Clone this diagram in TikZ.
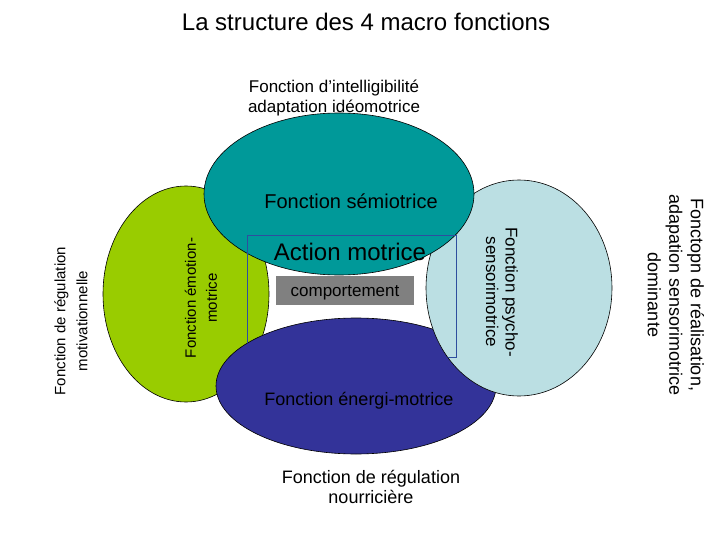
\documentclass[tikz,border=0pt]{standalone}
\usepackage{fontspec}
\setmainfont{Liberation Sans}
\usetikzlibrary{shapes.geometric}
\definecolor{cgreen}{HTML}{99CC00}
\definecolor{cteal}{HTML}{009999}
\definecolor{clight}{HTML}{BBDFE3}
\definecolor{cnavy}{HTML}{333399}
\definecolor{cgray}{HTML}{808080}
\definecolor{cframe}{HTML}{2E4E9E}
\newcommand{\fs}[2]{\fontsize{#1}{#2}\selectfont}
\begin{document}
\begin{tikzpicture}[x=1pt,y=-1pt,
  blob/.style={draw=black,line width=0.6pt,ellipse,inner sep=0pt},
  lbl/.style={inner sep=0pt,align=center,text=black},
  frameline/.style={draw=cframe,line width=0.7pt}]
\useasboundingbox (0,0) rectangle (720,540);
% title and outer labels
\node[lbl,anchor=base,font=\fs{24}{29}] (title) at (366,31) {La structure des 4 macro fonctions};
\node[lbl,anchor=base,font=\fs{17}{20}] (intel1) at (334,93) {Fonction d’intelligibilité};
\node[lbl,anchor=base,font=\fs{17}{20}] (intel2) at (334,113) {adaptation idéomotrice};
\node[lbl,anchor=base,font=\fs{18}{20}] (nour1) at (371,483) {Fonction de régulation};
\node[lbl,anchor=base,font=\fs{18}{20}] (nour2) at (371,503) {nourricière};
\node[lbl,rotate=90,font=\fs{15}{22}] (motiv) at (71,321) {Fonction de régulation\\motivationnelle};
\node[lbl,rotate=-90,font=\fs{18}{21.5}] (real) at (676,295) {Fonctopn de réalisation,\\adapation sensorimotrice\\dominante};
% ellipses
\node[blob,fill=cgreen,minimum width=166pt,minimum height=216pt] (green) at (186,294) {};
\node[blob,fill=cnavy,minimum width=280pt,minimum height=136pt] (navy) at (356,386) {};
\node[blob,fill=clight,minimum width=186pt,minimum height=216pt] (light) at (519,288) {};
\node[blob,fill=cteal,minimum width=270pt,minimum height=162pt] (teal) at (339,194) {};
% frame rectangle
\begin{scope}[even odd rule]
\clip (0,0) rectangle (720,540) (356,386) ellipse [x radius=140, y radius=68];
\draw[frameline] (247,235) rectangle (456,357);
\end{scope}
\begin{scope}
\clip (519,288) ellipse [x radius=93, y radius=108];
\draw[frameline] (247,235) rectangle (456,357);
\end{scope}
% inner labels
\node[lbl,anchor=base,font=\fs{20}{24}] (semio) at (351,208) {Fonction sémiotrice};
\node[lbl,anchor=base,font=\fs{24}{29}] (action) at (350,260) {Action motrice};
\node[fill=cgray,minimum width=138pt,minimum height=29pt,inner sep=0pt] (comp) at (345,290.5) {};
\node[lbl,anchor=base,font=\fs{17}{20}] (comptxt) at (345,296) {comportement};
\node[lbl,anchor=base,font=\fs{18}{20}] (energ) at (359,405) {Fonction énergi-motrice};
\node[lbl,rotate=90,font=\fs{15}{21}] (emot) at (201,298) {Fonction émotion-\\motrice};
\node[lbl,rotate=-90,font=\fs{17}{19.5}] (psycho) at (502,292) {Fonction psycho-\\sensorimotrice};
\end{tikzpicture}
\end{document}
